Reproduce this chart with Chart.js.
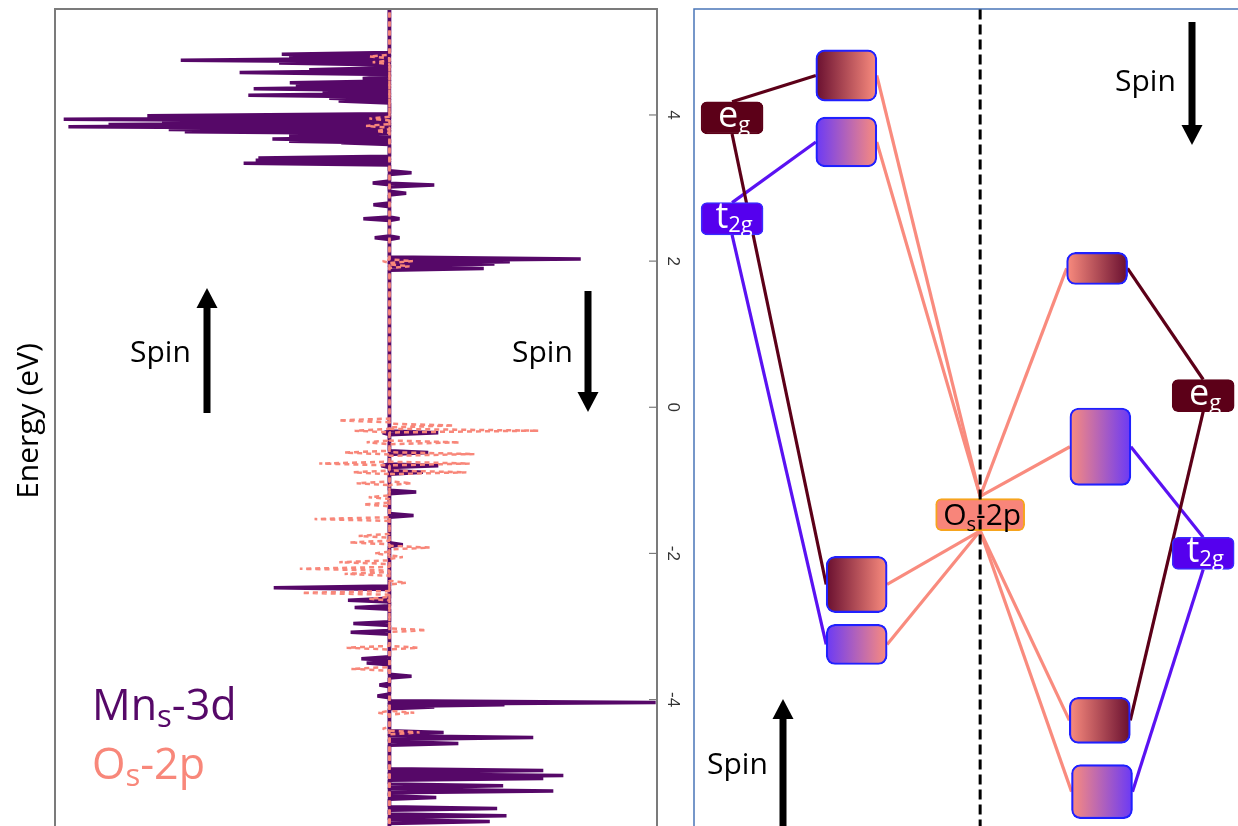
<!DOCTYPE html>
<html lang="en">
<head>
<meta charset="utf-8">
<title>Mn-3d / O-2p DOS and level scheme</title>
<script src="https://cdn.jsdelivr.net/npm/chart.js@4.4.1/dist/chart.umd.min.js"></script>
<style>
  html, body { margin: 0; padding: 0; background: #fff; overflow: hidden; }
  #page { position: relative; width: 1238px; height: 826px; }
  #dos-wrap { position: absolute; left: 0; top: 0; width: 690px; height: 826px; }
  #mo-wrap { position: absolute; left: 690px; top: 0; width: 548px; height: 826px; }
</style>
</head>
<body>
<div id="page">
  <div id="dos-wrap"><canvas id="dosChart"></canvas></div>
  <div id="mo-wrap"><canvas id="moChart"></canvas></div>
</div>
<script>
// ========================
// Dados (eV / estados)
// ========================
const energyTicks = [4, 2, 0, -2, -4];
const energyMin = -5.73;
const energyMax = 5.45;

// Mn-3d spin up (desenhado para a esquerda)
const mnUpEnergy = [4.83, 4.80, 4.75, 4.71, 4.62, 4.58, 4.50, 4.44, 4.40, 4.36, 4.31, 4.27, 4.23, 4.19,
    3.99, 3.97, 3.94, 3.90, 3.87, 3.84, 3.80, 3.77, 3.72, 3.67, 3.64, 3.62, 3.41, 3.38, 3.34,
    3.07, 2.77, 2.58, 2.32, -0.35, -0.80, -2.47, -2.64, -2.74, -2.96, -3.08, -3.44, -3.50, -3.80, -3.95];
const mnUpDos = [-1.61, -1.50, -3.12, -1.65, -1.20, -2.24, -0.40, -1.49, -1.40, -2.03, -1.00, -2.11, -0.90, -0.76,
    -3.62, -3.50, -4.87, -3.40, -4.20, -4.80, -3.30, -3.06, -1.50, -1.75, -1.50, -0.72, -1.96, -2.00, -2.18,
    -0.25, -0.24, -0.39, -0.22, -0.10, -0.12, -1.73, -0.62, -0.52, -0.54, -0.58, -0.42, -0.34, -0.15, -0.18];

// Mn-3d spin down (desenhado para a direita)
const mnDnEnergy = [3.21, 3.04, 2.93, 2.58, 2.32, 2.03, 1.99, 1.96, 1.90,
    -0.35, -0.62, -0.80, -0.89, -1.16, -1.48, -1.88, -3.68,
    -4.04, -4.07, -4.10, -4.45, -4.52, -4.60, -4.97, -5.04, -5.08, -5.18, -5.25, -5.34, -5.49, -5.59, -5.67];
const mnDnDos = [0.33, 0.67, 0.25, 0.15, 0.15, 2.86, 1.80, 1.57, 1.41,
    0.73, 0.58, 0.73, 0.50, 0.40, 0.36, 0.20, 0.33,
    3.98, 1.72, 0.67, 0.81, 2.15, 1.03, 2.30, 2.60, 2.30, 1.70, 2.45, 0.70, 1.61, 1.75, 1.50];

// O-2p spin up
const oUpEnergy = [4.80, 4.72, 3.95, 3.85, 3.78, 2.00, -0.18, -0.32, -0.48, -0.62, -0.77, -0.89, -1.04, -1.23,
    -1.33, -1.53, -1.76, -1.85, -2.00, -2.12, -2.21, -2.28, -2.54, -2.62, -3.29, -3.58, -4.18, -4.40];
const oUpDos = [-0.30, -0.25, -0.30, -0.35, -0.20, -0.10, -0.76, -0.52, -0.34, -0.67, -1.05, -0.54, -0.49, -0.31,
    -0.39, -1.12, -0.46, -0.60, -0.22, -0.75, -1.34, -0.67, -1.31, -0.30, -0.64, -0.57, -0.17, -0.10];

// O-2p spin down
const oDnEnergy = [2.00, 1.93, -0.25, -0.32, -0.48, -0.64, -0.77, -0.89, -1.04, -1.92, -2.05, -2.40, -3.05, -3.29, -4.18, -4.45];
const oDnDos = [0.35, 0.30, 0.96, 2.23, 1.05, 1.27, 1.20, 1.15, 0.33, 0.60, 0.20, 0.25, 0.55, 0.43, 0.37, 0.45];

// Niveis do Mn-3d (campo cristalino)
const mnLevelName = ['eg', 't2g', 'eg', 't2g'];
const mnLevelSpin = ['up', 'up', 'down', 'down'];
const mnLevelEnergy = [3.96, 2.58, 0.16, -2.00];

// Niveis hibridizados Mn-3d / O-2p: faixa [baixo, alto]
const moLevelName = ['eg', 't2g', 'eg', 't2g', 'eg', 't2g', 'eg', 't2g'];
const moLevelSpin = ['up', 'up', 'up', 'up', 'down', 'down', 'down', 'down'];
const moLevelLow = [4.19, 3.29, -2.81, -3.52, 1.68, -1.07, -4.60, -5.63];
const moLevelHigh = [4.89, 3.97, -2.04, -2.97, 2.12, -0.01, -3.97, -4.89];

// Nivel O-2p
const oLevelEnergy = -1.47;

// ========================
// Layout / estilo
// ========================
const colMnUp = 7.0;
const colMnDn = 93.6;
const colO = 52.6;
const moColumnX = [28.0, 28.0, 29.9, 29.9, 74.1, 74.7, 74.6, 75.0];
const BOX_HALF = 5.6;       // meia largura da caixa em unidades de x
const LABEL_HALF = 0.22;    // meia altura das etiquetas em eV

const mnColor = '#560868';
const oColor = '#f8877a';
const egDark = '#5c0018';
const egBox = '#6a1030';
const t2gDark = '#5500ee';
const t2gBox = '#6c3af5';
const salmon = '#f98b7e';
const FONT = '"Open Sans", "Noto Sans", sans-serif';

// Monta o "pico" de cada estado: base em zero, ponta no valor
function spikeLine(energies, values, halfWidth) {
    const pts = energies.map((e, i) => [e, values[i]]).sort((a, b) => b[0] - a[0]);
    const out = [{ x: 0, y: energyMax + 0.2 }];
    pts.forEach(([e, v]) => {
        out.push({ x: 0, y: e + halfWidth }, { x: v, y: e }, { x: 0, y: e - halfWidth });
    });
    out.push({ x: 0, y: energyMin - 0.2 });
    return out;
}

function drawArrow(ctx, x, tail, tip) {
    const headH = 20, headW = 21, shaft = 7;
    const s = Math.sign(tip - tail);
    const base = tip - s * headH;
    ctx.fillStyle = '#000';
    ctx.fillRect(x - shaft / 2, Math.min(tail, base), shaft, Math.abs(base - tail));
    ctx.beginPath();
    ctx.moveTo(x - headW / 2, base);
    ctx.lineTo(x + headW / 2, base);
    ctx.lineTo(x, tip);
    ctx.closePath();
    ctx.fill();
}

// Texto com subscrito: parts = [{t, size, dy}]
function drawParts(ctx, parts, x, baseY, align) {
    let total = 0;
    parts.forEach(p => {
        ctx.font = `${p.size}px ${FONT}`;
        p.w = ctx.measureText(p.t).width;
        total += p.w;
    });
    let cx = align === 'center' ? x - total / 2 : x;
    ctx.textAlign = 'left';
    ctx.textBaseline = 'alphabetic';
    parts.forEach(p => {
        ctx.font = `${p.size}px ${FONT}`;
        ctx.fillText(p.t, cx, baseY + p.dy);
        cx += p.w;
    });
}

function drawSpin(ctx, x, baseY) {
    ctx.fillStyle = '#000';
    ctx.font = `30px ${FONT}`;
    ctx.textAlign = 'left';
    ctx.textBaseline = 'alphabetic';
    ctx.fillText('Spin', x, baseY);
}

// ========================
// Painel esquerdo: DOS
// ========================
const dosDecor = {
    id: 'dosDecor',
    afterDraw(chart) {
        const { ctx, chartArea: a, scales: { y } } = chart;
        ctx.save();
        ctx.strokeStyle = '#7b7b7b';
        ctx.lineWidth = 2;
        ctx.beginPath();
        ctx.moveTo(a.left, a.bottom + 5);
        ctx.lineTo(a.left, a.top);
        ctx.lineTo(a.right, a.top);
        ctx.lineTo(a.right, a.bottom + 5);
        ctx.stroke();

        // ticks para dentro e rotulos girados
        ctx.lineWidth = 1.2;
        energyTicks.forEach(v => {
            const py = y.getPixelForValue(v);
            ctx.beginPath();
            ctx.moveTo(a.right - 8, py);
            ctx.lineTo(a.right, py);
            ctx.stroke();
            ctx.save();
            ctx.translate(a.right + 16, py);
            ctx.rotate(Math.PI / 2);
            ctx.fillStyle = '#333';
            ctx.font = '17px "Liberation Sans", sans-serif';
            ctx.textAlign = 'center';
            ctx.textBaseline = 'middle';
            ctx.fillText(String(v), 0, 0);
            ctx.restore();
        });

        // titulo do eixo
        ctx.save();
        ctx.translate(38, 421);
        ctx.rotate(-Math.PI / 2);
        ctx.fillStyle = '#000';
        ctx.font = `30px ${FONT}`;
        ctx.textAlign = 'center';
        ctx.textBaseline = 'alphabetic';
        ctx.fillText('Energy (eV)', 0, 0);
        ctx.restore();

        // setas de spin
        drawSpin(ctx, 130, 362);
        drawArrow(ctx, 207, 413, 288);
        drawSpin(ctx, 512, 362);
        drawArrow(ctx, 588, 291, 412);

        // legenda
        ctx.fillStyle = mnColor;
        drawParts(ctx, [{ t: 'Mn', size: 43, dy: 0 }, { t: 's', size: 31, dy: 7 }, { t: '-3d', size: 43, dy: 0 }], 92, 720, 'left');
        ctx.fillStyle = oColor;
        drawParts(ctx, [{ t: 'O', size: 43, dy: 0 }, { t: 's', size: 31, dy: 7 }, { t: '-2p', size: 43, dy: 0 }], 92, 779, 'left');
        ctx.restore();
    }
};

const spikeHalf = 0.025;

new Chart(document.getElementById('dosChart').getContext('2d'), {
    type: 'scatter',
    data: {
        datasets: [
            { label: 'O-2p up', data: spikeLine(oUpEnergy, oUpDos, spikeHalf), showLine: true, borderColor: oColor, borderWidth: 2.5, borderDash: [5, 4], pointRadius: 0, borderJoinStyle: 'bevel' },
            { label: 'O-2p down', data: spikeLine(oDnEnergy, oDnDos, spikeHalf), showLine: true, borderColor: oColor, borderWidth: 2.5, borderDash: [5, 4], pointRadius: 0, borderJoinStyle: 'bevel' },
            { label: 'Mn-3d up', data: spikeLine(mnUpEnergy, mnUpDos, spikeHalf), showLine: true, borderColor: mnColor, borderWidth: 3.5, pointRadius: 0, borderJoinStyle: 'bevel' },
            { label: 'Mn-3d down', data: spikeLine(mnDnEnergy, mnDnDos, spikeHalf), showLine: true, borderColor: mnColor, borderWidth: 3.5, pointRadius: 0, borderJoinStyle: 'bevel' }
        ]
    },
    options: {
        animation: false,
        responsive: true,
        maintainAspectRatio: false,
        layout: { padding: { left: 55, right: 33, top: 9, bottom: 0 } },
        plugins: { legend: { display: false }, tooltip: { enabled: false } },
        scales: {
            x: { type: 'linear', display: false, min: -5, max: 4 },
            y: { type: 'linear', display: false, min: energyMin, max: energyMax }
        }
    },
    plugins: [dosDecor]
});

// ========================
// Painel direito: esquema de niveis
// ========================
function moCenter(i) {
    return (moLevelLow[i] + moLevelHigh[i]) / 2;
}

const connectionSets = [];

// Mn -> caixas hibridizadas
mnLevelName.forEach((name, m) => {
    const up = mnLevelSpin[m] === 'up';
    const mx = up ? colMnUp : colMnDn;
    moLevelName.forEach((n, i) => {
        if (n !== name || moLevelSpin[i] !== mnLevelSpin[m]) return;
        const cy = moCenter(i);
        const fromY = cy > mnLevelEnergy[m] ? mnLevelEnergy[m] + LABEL_HALF : mnLevelEnergy[m] - LABEL_HALF;
        const boxX = up ? moColumnX[i] - BOX_HALF : moColumnX[i] + BOX_HALF;
        connectionSets.push({
            type: 'line',
            data: [{ x: mx, y: fromY }, { x: boxX, y: cy }],
            borderColor: name === 'eg' ? egDark : '#5a12f2',
            borderWidth: 3.2,
            pointRadius: 0,
            order: 2
        });
    });
});

// O-2p -> caixas hibridizadas
moLevelName.forEach((n, i) => {
    const up = moLevelSpin[i] === 'up';
    const cy = moCenter(i);
    const fromY = cy > oLevelEnergy ? oLevelEnergy + LABEL_HALF + 0.03 : oLevelEnergy - LABEL_HALF;
    const boxX = up ? moColumnX[i] + BOX_HALF : moColumnX[i] - BOX_HALF;
    connectionSets.push({
        type: 'line',
        data: [{ x: colO, y: fromY }, { x: boxX, y: cy }],
        borderColor: salmon,
        borderWidth: 3.2,
        pointRadius: 0,
        order: 2
    });
});

function boxGradient(c) {
    if (c.type !== 'data') return salmon;
    const i = c.dataIndex;
    const chart = c.chart;
    const xs = chart.scales.x;
    const px = xs ? xs.getPixelForValue(c.raw.x) : NaN;
    if (!isFinite(px)) return salmon;
    const g = chart.ctx.createLinearGradient(px - 30, 0, px + 30, 0);
    const dark = moLevelName[i] === 'eg' ? egBox : t2gBox;
    const up = moLevelSpin[i] === 'up';
    g.addColorStop(0, up ? dark : salmon);
    g.addColorStop(1, up ? salmon : dark);
    return g;
}

const moDecor = {
    id: 'moDecor',
    beforeDatasetsDraw(chart) {
        const { ctx, chartArea: a } = chart;
        ctx.save();
        ctx.strokeStyle = '#4a76b8';
        ctx.lineWidth = 1.5;
        ctx.beginPath();
        ctx.moveTo(a.left, a.bottom + 5);
        ctx.lineTo(a.left, a.top);
        ctx.lineTo(a.right + 5, a.top);
        ctx.stroke();
        ctx.restore();
    },
    afterDatasetsDraw(chart) {
        const { ctx, scales: { x, y } } = chart;
        ctx.save();
        // rotulos eg / t2g
        ctx.fillStyle = '#fff';
        mnLevelName.forEach((name, m) => {
            const px = x.getPixelForValue(mnLevelSpin[m] === 'up' ? colMnUp : colMnDn);
            const py = y.getPixelForValue(mnLevelEnergy[m]);
            const parts = name === 'eg'
                ? [{ t: 'e', size: 36, dy: 0 }, { t: 'g', size: 22, dy: 5 }]
                : [{ t: 't', size: 36, dy: 0 }, { t: '2g', size: 22, dy: 4 }];
            drawParts(ctx, parts, px + 2, py + 9, 'center');
        });
        // rotulo O-2p
        ctx.fillStyle = '#000';
        drawParts(ctx, [{ t: 'O', size: 30, dy: 0 }, { t: 's', size: 20, dy: 6 }, { t: '-2p', size: 30, dy: 0 }],
            x.getPixelForValue(colO) + 2, y.getPixelForValue(oLevelEnergy) + 10, 'center');

        // setas de spin
        drawSpin(ctx, 425, 91);
        drawArrow(ctx, 502, 22, 145);
        drawSpin(ctx, 17, 774);
        drawArrow(ctx, 93, 830, 699);
        ctx.restore();
    }
};

new Chart(document.getElementById('moChart').getContext('2d'), {
    type: 'bar',
    data: {
        datasets: [
            {
                type: 'line',
                label: 'divisor',
                data: [{ x: colO, y: energyMax + 0.2 }, { x: colO, y: energyMin - 0.2 }],
                borderColor: '#000',
                borderWidth: 3,
                borderDash: [10, 5],
                pointRadius: 0,
                order: 0
            },
            {
                label: 'O-2p',
                data: [{ x: colO, y: [oLevelEnergy - LABEL_HALF, oLevelEnergy + LABEL_HALF] }],
                backgroundColor: '#f8857a',
                borderColor: '#f6a41e',
                borderWidth: 2,
                borderRadius: 6,
                borderSkipped: false,
                barThickness: 89,
                grouped: false,
                order: 1
            },
            {
                label: 'Mn-3d',
                data: mnLevelEnergy.map((e, m) => ({
                    x: mnLevelSpin[m] === 'up' ? colMnUp : colMnDn,
                    y: [e - LABEL_HALF, e + LABEL_HALF]
                })),
                backgroundColor: mnLevelName.map(n => n === 'eg' ? egDark : t2gDark),
                borderColor: mnLevelName.map(n => n === 'eg' ? egDark : '#3a2cff'),
                borderWidth: 1.5,
                borderRadius: 6,
                borderSkipped: false,
                barThickness: 62,
                grouped: false,
                order: 1
            },
            {
                label: 'hibridizados',
                data: moLevelName.map((n, i) => ({ x: moColumnX[i], y: [moLevelLow[i], moLevelHigh[i]] })),
                backgroundColor: boxGradient,
                borderColor: '#2020ff',
                borderWidth: 2.2,
                borderRadius: 9,
                borderSkipped: false,
                barThickness: 61,
                grouped: false,
                order: 1
            },
            ...connectionSets
        ]
    },
    options: {
        animation: false,
        responsive: true,
        maintainAspectRatio: false,
        layout: { padding: { left: 4, right: 0, top: 9, bottom: 0 } },
        plugins: { legend: { display: false }, tooltip: { enabled: false } },
        scales: {
            x: { type: 'linear', display: false, min: 0, max: 100, offset: false },
            y: { type: 'linear', display: false, min: energyMin, max: energyMax }
        }
    },
    plugins: [moDecor]
});
</script>
</body>
</html>
